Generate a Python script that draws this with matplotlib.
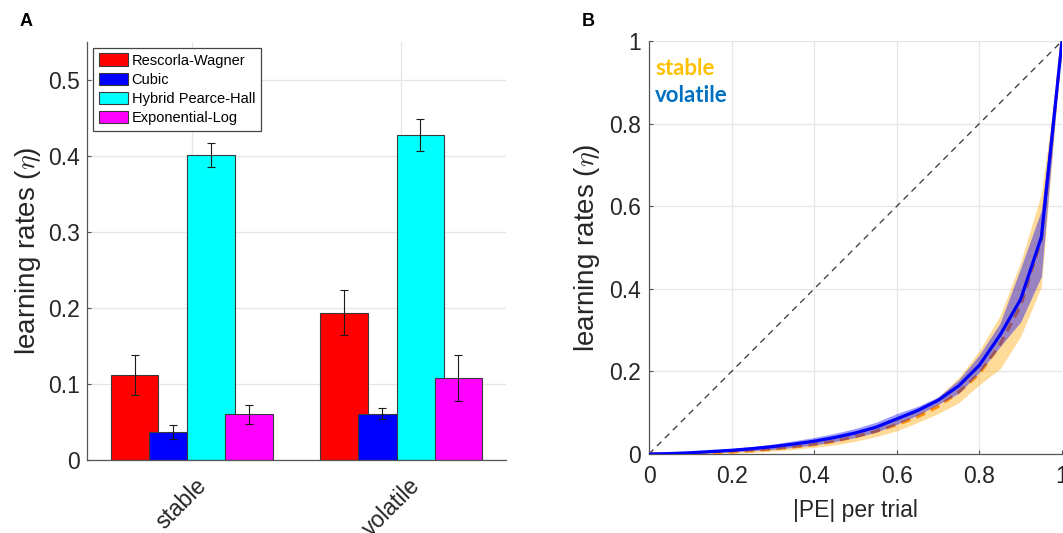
import numpy as np
import matplotlib
matplotlib.use("Agg")
import matplotlib.pyplot as plt
import matplotlib.transforms as mtransforms

plt.rcParams["font.family"] = ["Liberation Sans", "DejaVu Sans"]
plt.rcParams["mathtext.fontset"] = "cm"

# ---- Panel A: fitted learning rates per condition ----
conditions = ["stable", "volatile"]
models = ["Rescorla-Wagner", "Cubic", "Hybrid Pearce-Hall", "Exponential-Log"]
model_colors = ["#FF0000", "#0000FF", "#00FFFF", "#FF00FF"]

rw_mean = [0.112, 0.194]
rw_err = [0.026, 0.030]
cubic_mean = [0.037, 0.061]
cubic_err = [0.0095, 0.0075]
hph_mean = [0.401, 0.428]
hph_err = [0.016, 0.021]
explog_mean = [0.060, 0.108]
explog_err = [0.012, 0.030]

# ---- Panel B: learning rate as a function of |PE| ----
pe = [0.00, 0.05, 0.10, 0.15, 0.20, 0.25, 0.30, 0.35, 0.40, 0.45, 0.50,
      0.55, 0.60, 0.65, 0.70, 0.75, 0.80, 0.85, 0.90, 0.95, 1.00]
volatile_eta = [0, .001, .003, .006, .009, .013, .018, .024, .031, .040, .051,
                .065, .085, .105, .130, .165, .215, .288, .375, .525, 1.0]
volatile_lo = [0, .000, .001, .003, .005, .008, .011, .016, .022, .030, .040,
               .053, .072, .094, .120, .147, .198, .260, .320, .430, 1.0]
volatile_hi = [0, .002, .005, .009, .013, .018, .024, .032, .040, .050, .062,
               .077, .098, .115, .138, .180, .240, .317, .450, .590, 1.0]
stable_eta = [0, .000, .001, .003, .005, .008, .012, .017, .023, .031, .042,
              .055, .071, .090, .115, .150, .195, .265, .360, .520, 1.0]
stable_lo = [0, .000, .000, .001, .002, .004, .007, .011, .016, .022, .031,
             .042, .056, .076, .098, .124, .168, .206, .285, .405, 1.0]
stable_hi = [0, .001, .003, .006, .009, .013, .018, .024, .031, .041, .053,
             .069, .088, .108, .138, .185, .250, .335, .465, .630, 1.0]

W, H = 1063, 533
fig = plt.figure(figsize=(W / 100, H / 100), dpi=100)

def px_axes(left, top, right, bottom):
    return fig.add_axes([left / W, 1 - bottom / H, (right - left) / W, (bottom - top) / H])

axis_color = "#555555"
text_color = "#262626"
grid_color = "#e6e6e6"

def style_axes(ax):
    for side in ("top", "right"):
        ax.spines[side].set_visible(False)
    for side in ("left", "bottom"):
        ax.spines[side].set_color(axis_color)
        ax.spines[side].set_linewidth(0.9)
    ax.grid(True, color=grid_color, linewidth=0.9)
    ax.set_axisbelow(True)
    ax.tick_params(direction="in", length=3, color=axis_color,
                   labelcolor=text_color, labelsize=16.5)

# ---------------- Panel A ----------------
axA = px_axes(87, 42, 506, 460)
style_axes(axA)

group_x = np.arange(1, len(conditions) + 1)
bar_width = 0.227
bar_step = 0.182
means = [rw_mean, cubic_mean, hph_mean, explog_mean]
errs = [rw_err, cubic_err, hph_err, explog_err]
n = len(models)
for i, (m, c, lab) in enumerate(zip(means, model_colors, models)):
    xs = group_x + (i - (n - 1) / 2) * bar_step
    axA.bar(xs, m, width=bar_width, color=c, edgecolor="#3a3a3a",
            linewidth=0.8, label=lab, zorder=2)
for i, (m, e) in enumerate(zip(means, errs)):
    xs = group_x + (i - (n - 1) / 2) * bar_step
    axA.errorbar(xs, m, yerr=e, fmt="none", ecolor="#1a1a1a",
                 elinewidth=0.8, capsize=3.0, capthick=0.8, zorder=3)

axA.set_xlim(0.5, 2.5)
axA.set_ylim(0, 0.55)
axA.set_yticks([0, 0.1, 0.2, 0.3, 0.4, 0.5])
axA.set_yticklabels(["0", "0.1", "0.2", "0.3", "0.4", "0.5"])
axA.set_xticks(group_x)
axA.set_xticklabels(conditions, rotation=45, ha="center", va="top")
axA.tick_params(axis="x", pad=10)
axA.tick_params(axis="y", pad=5)
shift = mtransforms.ScaledTranslation(-10 / 100, 0, fig.dpi_scale_trans)
for lbl in axA.get_xticklabels():
    lbl.set_transform(lbl.get_transform() + shift)

axA.set_ylabel(r"learning rates ($\eta$)", fontsize=20, color=text_color)
axA.yaxis.set_label_coords(-0.106, 0.5)

leg = axA.legend(loc="upper left", bbox_to_anchor=(0.0143, 0.9866),
                 borderaxespad=0, fontsize=10.5, frameon=True, fancybox=False,
                 edgecolor="#444444", framealpha=1, handlelength=2.0,
                 handleheight=0.95, handletextpad=0.25, labelspacing=0.33,
                 borderpad=0.4)
leg.get_frame().set_linewidth(0.9)

# ---------------- Panel B ----------------
axB = px_axes(649, 41, 1062, 454)
style_axes(axB)

axB.plot([0, 1], [0, 1], linestyle=(0, (5, 4)), color="#333333",
         linewidth=0.9, zorder=2)
axB.fill_between(pe, stable_lo, stable_hi, color="#FFA500", alpha=0.4,
                 linewidth=0, zorder=3)
axB.plot(pe, stable_eta, color="#FF8C00", linewidth=2.3,
         linestyle=(0, (3, 2)), zorder=4)
axB.fill_between(pe, volatile_lo, volatile_hi, color="#0000FF", alpha=0.4,
                 linewidth=0, zorder=5)
axB.plot(pe, volatile_eta, color="#0000FF", linewidth=2.3, zorder=6)

axB.set_xlim(0, 1)
axB.set_ylim(0, 1)
ticks = [0, 0.2, 0.4, 0.6, 0.8, 1]
tick_text = ["0", "0.2", "0.4", "0.6", "0.8", "1"]
axB.set_xticks(ticks)
axB.set_xticklabels(tick_text)
axB.set_yticks(ticks)
axB.set_yticklabels(tick_text)
axB.tick_params(axis="x", pad=8)
axB.tick_params(axis="y", pad=6)
axB.set_xlabel("|PE| per trial", fontsize=16.5, color=text_color, labelpad=8)
axB.set_ylabel(r"learning rates ($\eta$)", fontsize=20, color=text_color)
axB.yaxis.set_label_coords(-0.113, 0.5)

axB.text(0.015, 0.918, "stable", color="#FFC000", fontsize=16,
         fontweight="bold", family=["Lato", "DejaVu Sans"], transform=axB.transAxes)
axB.text(0.015, 0.852, "volatile", color="#0070C0", fontsize=16,
         fontweight="bold", family=["Lato", "DejaVu Sans"], transform=axB.transAxes)

# ---- panel letters ----
fig.text(20 / W, 1 - 13 / H, "A", fontsize=13, fontweight="bold", va="top", ha="left")
fig.text(582 / W, 1 - 13 / H, "B", fontsize=13, fontweight="bold", va="top", ha="left")

fig.savefig("out.png", dpi=100)
